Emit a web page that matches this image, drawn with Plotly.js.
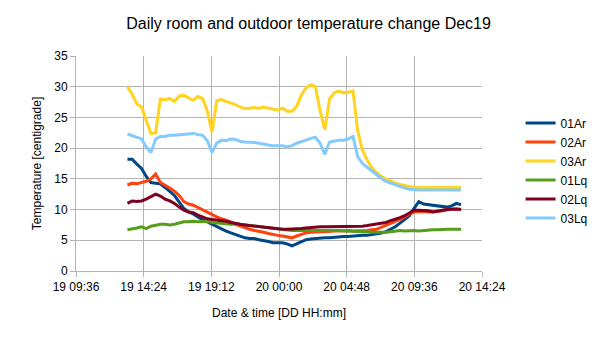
<!DOCTYPE html>
<html>
<head>
<meta charset="utf-8">
<script src="https://cdn.plot.ly/plotly-3.0.1.min.js"></script>
<style>html,body{margin:0;padding:0;background:#fff;}#chart{width:605px;height:340px;}</style>
</head>
<body>
<div id="chart"></div>
<script>
// Sample times: every 20 minutes starting 2019-12-19 13:15
var startTime = "2019-12-19T13:15:00";
var stepMinutes = 20;
var seriesNames = ["01Ar", "02Ar", "03Ar", "01Lq", "02Lq", "03Lq"];
var seriesColors = ["#004586", "#ff420e", "#ffd320", "#579d1c", "#7e0021", "#83caff"];

var ar01 = [18.2,18.2,17.4,16.7,15.4,14.4,14.3,14.2,13.6,13.0,12.3,11.2,10.2,9.6,9.3,8.8,8.3,8.0,7.6,7.2,
  6.9,6.5,6.2,5.9,5.6,5.4,5.3,5.3,5.1,5.0,4.8,4.6,4.6,4.6,4.4,4.1,4.4,4.8,5.1,5.2,
  5.3,5.4,5.4,5.4,5.5,5.5,5.6,5.6,5.7,5.7,5.8,5.8,5.9,6.0,6.2,6.4,6.8,7.2,7.8,8.4,
  9.0,10.2,11.3,10.9,10.8,10.8,10.7,10.5,10.4,10.6,11.0,10.8];
var ar02 = [14.0,14.3,14.2,14.4,14.6,15.0,15.8,14.4,14.0,13.5,13.0,12.3,11.3,10.9,10.7,10.3,9.9,9.5,9.1,8.8,
  8.5,8.3,8.0,7.6,7.3,7.0,6.8,6.6,6.5,6.3,6.1,5.9,5.8,5.7,5.5,5.4,5.7,6.0,6.2,6.3,
  6.4,6.4,6.4,6.5,6.5,6.5,6.6,6.6,6.5,6.5,6.5,6.6,6.7,6.8,7.1,7.4,7.7,8.0,8.4,8.8,
  9.3,9.6,9.7,9.7,9.6,9.6,9.7,9.8,10.0,10.1,10.1,10.0];
var ar03 = [30.0,28.8,27.2,26.7,24.5,22.4,22.5,28.0,27.9,28.1,27.6,28.5,28.6,28.2,27.8,28.4,28.1,26.0,22.6,27.7,
  27.9,27.6,27.4,27.1,26.7,26.4,26.5,26.6,26.5,26.7,26.5,26.3,26.2,26.5,26.0,26.0,26.8,28.6,29.8,30.3,
  30.0,26.0,23.0,28.0,29.0,29.3,29.0,29.1,29.3,22.8,19.7,18.1,16.8,16.0,15.4,15.0,14.6,14.3,14.1,13.9,
  13.7,13.6,13.6,13.6,13.6,13.6,13.6,13.6,13.6,13.6,13.6,13.6];
var lq01 = [6.7,6.8,7.0,7.2,6.9,7.3,7.5,7.6,7.6,7.5,7.6,7.8,8.0,8.0,8.1,8.0,8.0,8.1,7.9,7.8,
  7.8,7.7,7.6,7.7,7.6,7.5,7.4,7.3,7.3,7.2,7.1,7.0,6.9,6.8,6.7,6.6,6.6,6.6,6.6,6.7,
  6.7,6.6,6.6,6.6,6.6,6.6,6.5,6.5,6.5,6.4,6.4,6.4,6.3,6.3,6.2,6.3,6.4,6.5,6.6,6.5,
  6.6,6.6,6.5,6.6,6.6,6.7,6.7,6.8,6.8,6.8,6.8,6.8];
var lq02 = [11.0,11.4,11.3,11.4,11.7,12.1,12.5,12.2,11.7,11.4,11.0,10.4,9.9,9.6,9.5,9.1,8.8,8.5,8.4,8.3,
  8.3,8.1,7.9,7.7,7.6,7.5,7.4,7.3,7.2,7.1,7.0,6.9,6.9,6.8,6.8,6.8,6.8,6.9,7.0,7.1,
  7.1,7.2,7.2,7.2,7.2,7.3,7.2,7.3,7.3,7.3,7.3,7.4,7.5,7.6,7.7,7.9,8.2,8.4,8.7,9.0,
  9.5,9.9,9.9,9.9,9.8,9.6,9.8,9.9,10.0,10.1,10.1,10.0];
var lq03 = [22.3,22.0,21.8,21.5,20.2,19.3,21.5,21.9,21.9,22.1,22.1,22.2,22.3,22.4,22.4,22.2,22.1,21.2,19.3,20.8,
  21.3,21.2,21.5,21.4,21.1,21.0,21.0,20.9,20.8,20.6,20.5,20.4,20.4,20.4,20.2,20.4,20.8,21.0,21.3,21.6,
  21.8,20.8,19.0,21.0,21.2,21.3,21.3,21.5,21.9,18.6,17.5,16.9,16.2,15.7,15.1,14.6,14.3,14.0,13.7,13.5,
  13.3,13.2,13.2,13.2,13.2,13.2,13.2,13.2,13.2,13.2,13.2,13.2];

var yTickVals = [0, 5, 10, 15, 20, 25, 30, 35];
var xRange = ["2019-12-19 09:36", "2019-12-20 14:24"];

function pad(n){ return (n < 10 ? "0" : "") + n; }
function makeTimes(count){
  var base = new Date(startTime + "Z").getTime();
  var out = [];
  for (var i = 0; i < count; i++) {
    var d = new Date(base + i * stepMinutes * 60000);
    out.push(d.getUTCFullYear() + "-" + pad(d.getUTCMonth()+1) + "-" + pad(d.getUTCDate()) + " " +
             pad(d.getUTCHours()) + ":" + pad(d.getUTCMinutes()));
  }
  return out;
}

var allSeries = [ar01, ar02, ar03, lq01, lq02, lq03];
var times = makeTimes(ar01.length);
var traces = allSeries.map(function(s, k){
  return {
    x: times, y: s, type: "scatter", mode: "lines", name: seriesNames[k],
    line: {color: seriesColors[k], width: 3}
  };
});

var gridCol = "#b3b3b3";
var layout = {
  width: 605, height: 340,
  margin: {l: 76, r: 116, t: 56, b: 69},
  paper_bgcolor: "#fff", plot_bgcolor: "#fff",
  font: {family: "Liberation Sans, Arial, sans-serif", size: 12, color: "#000"},
  title: {text: "Daily room and outdoor temperature change Dec19", font: {size: 16, color: "#000"},
          x: 0.51, xref: "container", xanchor: "center", y: 0.932, yref: "container", yanchor: "middle"},
  xaxis: {
    type: "date", range: xRange,
    tick0: "2019-12-19 09:36", dtick: 288 * 60000, tickformat: "%d %H:%M",
    showgrid: true, gridcolor: gridCol, gridwidth: 1,
    showline: true, linecolor: gridCol, linewidth: 1,
    ticks: "outside", ticklen: 5, tickcolor: gridCol,
    tickfont: {size: 12}, zeroline: false,
    title: {text: "Date & time [DD HH:mm]", font: {size: 12}, standoff: 15}
  },
  yaxis: {
    range: [0, 35], tickvals: yTickVals,
    showgrid: true, gridcolor: gridCol, gridwidth: 1,
    showline: true, linecolor: gridCol, linewidth: 1,
    ticks: "outside", ticklen: 5, tickcolor: gridCol,
    tickfont: {size: 12}, zeroline: false,
    title: {text: "Temperature [centigrade]", font: {size: 12}, standoff: 10}
  },
  legend: {x: 1.095, xanchor: "left", y: 0.467, yanchor: "middle",
           font: {size: 12}, bgcolor: "rgba(0,0,0,0)", tracegroupgap: 0},
  showlegend: true
};

Plotly.newPlot("chart", traces, layout, {staticPlot: true, displayModeBar: false});
</script>
</body>
</html>
